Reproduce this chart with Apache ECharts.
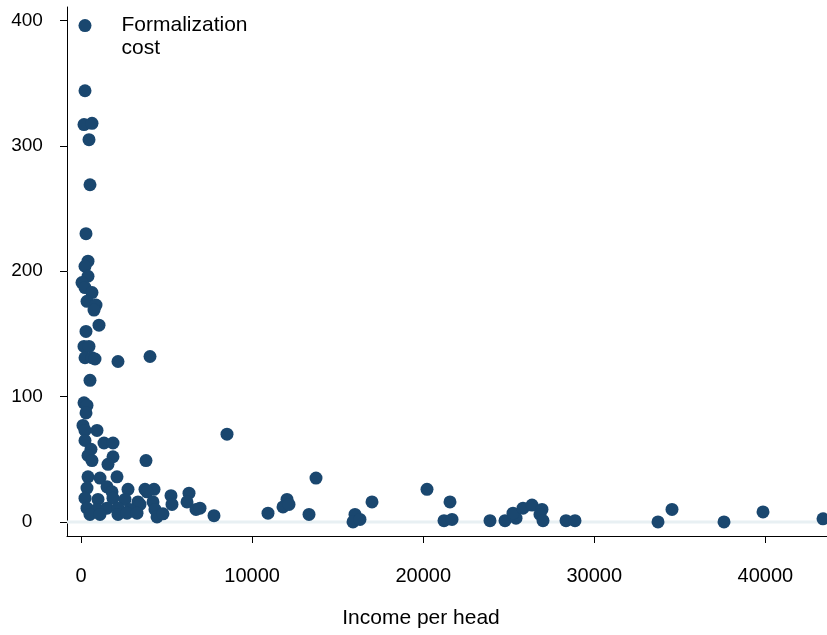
<!DOCTYPE html>
<html>
<head>
<meta charset="utf-8">
<script src="https://cdn.jsdelivr.net/npm/echarts@6/dist/echarts.min.js"></script>
<style>
  html, body { margin: 0; padding: 0; background: #fff; }
  #chart { width: 827px; height: 635px; }
</style>
</head>
<body>
<div id="chart"></div>
<script>
// income per head (x) and formalization cost (y), one entry per country
const incomePerHead = [
  234, 234, 175, 643, 468, 526, 292, 409, 234, 409, 58, 234, 643, 351, 877, 760, 1052, 292, 175, 468, 234,
  643, 818, 2162, 4033, 526, 175, 351, 292, 117, 234, 935, 234, 1344, 1870, 584, 409, 643, 1870, 1578, 3799,
  8533, 409, 1110, 2104, 351, 1520, 1812, 2747, 3740, 4267, 3857, 5260, 6312, 234, 994, 1870, 2572, 3331, 4208, 3448,
  5318, 6195, 351, 935, 1520, 2162, 2864, 4325, 6721, 526, 1110, 2162, 2688, 3273, 4442, 4792, 7773, 6955,
  10929, 12040, 11806, 12157, 13735, 13326, 16014, 15897, 16306, 17007, 20222, 21566, 21216, 21684, 23904, 24781,
  25424, 25248, 25833, 26359, 26943, 26826, 27002, 28346, 28872, 33723, 34541, 37580, 39860, 43367
];
const formalizationCost = [
  396, 344, 317, 318, 305, 269, 230, 208, 204, 196, 191, 187, 183, 176, 173, 169, 157, 152, 140, 140, 131,
  131, 130, 128, 132, 113, 95, 93, 87, 77, 73, 73, 65, 63, 63, 58, 53, 49, 52, 46, 49,
  70, 36, 35, 36, 27, 28, 24, 26, 26, 26, 24, 21, 23, 19, 18, 19, 18, 16, 16, 14,
  14, 16, 11, 10, 11, 11, 10, 10, 10, 6, 6, 6, 7, 7, 4, 6.5, 5, 11,
  7, 18, 12, 14, 35, 6, 6, 0, 2, 16, 26, 16, 1, 2, 1, 1,
  3, 7, 11, 13.5, 10, 6, 1, 1, 1, 0, 10, 0, 8, 2.5
];
const xTicks = [0, 10000, 20000, 30000, 40000];
const yTicks = [0, 100, 200, 300, 400];
const seriesName = "Formalization\ncost";

const navy = "#1a476f";
const fontFamily = "Liberation Sans, Arial, sans-serif";
const chart = echarts.init(document.getElementById("chart"), null, { renderer: "canvas" });
const points = incomePerHead.map((x, i) => [x, formalizationCost[i]]);

chart.setOption({
  animation: false,
  grid: { left: 67, right: 0, top: 7, bottom: 99 },
  legend: {
    left: 73, top: -3,
    icon: "circle", itemWidth: 64, itemHeight: 13,
    itemStyle: { opacity: 0 },
    data: [{ name: seriesName }],
    textStyle: { fontFamily, fontSize: 21, color: "#000", lineHeight: 23, padding: [23, 0, 0, 0] },
    selectedMode: false
  },
  xAxis: {
    type: "value", min: -818, max: 43600,
    name: "Income per head", nameLocation: "middle", nameGap: 72,
    nameTextStyle: { fontFamily, fontSize: 21, color: "#000", padding: [0, 52, 0, 0] },
    axisLine: { show: true, onZero: false, lineStyle: { color: "#000", width: 1 } },
    axisTick: { show: true, length: 7, customValues: xTicks, lineStyle: { color: "#000" } },
    axisLabel: { customValues: xTicks, margin: 30, fontFamily, fontSize: 20, color: "#000", formatter: v => String(v) },
    splitLine: { show: false }
  },
  yAxis: {
    type: "value", min: -11.2, max: 410.8,
    axisLine: { show: true, onZero: false, lineStyle: { color: "#000", width: 1 } },
    axisTick: { show: true, length: 7, customValues: yTicks, lineStyle: { color: "#000" } },
    axisLabel: { customValues: yTicks, margin: 40, align: "center", fontFamily, fontSize: 19, color: "#000", formatter: v => String(v) },
    splitLine: { show: false }
  },
  series: [
    {
      type: "line", z: 1, silent: true, symbol: "none",
      data: [[-818, 0], [43600, 0]],
      lineStyle: { color: "#e8f0f3", width: 3 }
    },
    {
      name: seriesName, type: "scatter", z: 2,
      symbol: "circle", symbolSize: 13,
      itemStyle: { color: navy, opacity: 1 },
      data: points
    }
  ]
});
</script>
</body>
</html>
